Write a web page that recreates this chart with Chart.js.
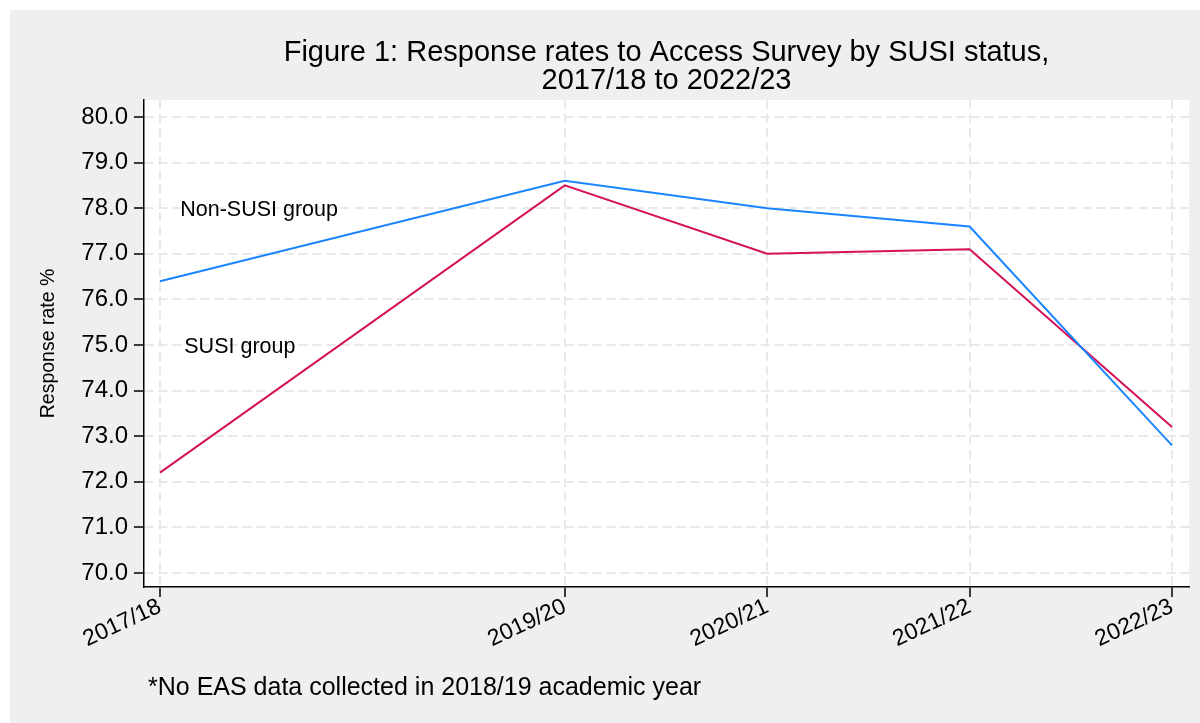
<!DOCTYPE html>
<html>
<head>
<meta charset="utf-8">
<title>Response rates to Access Survey by SUSI status</title>
<script src="https://cdn.jsdelivr.net/npm/chart.js@4.4.0/dist/chart.umd.min.js"></script>
<style>
  html, body { margin: 0; padding: 0; background: #fff; }
  #wrap { width: 1200px; height: 723px; }
</style>
</head>
<body>
<div id="wrap"><canvas id="rateChart" width="1200" height="723"></canvas></div>
<script>
// academic years (x is the starting calendar year, 2018/19 has no data)
const years = [2017, 2019, 2020, 2021, 2022];
const yearLabels = ['2017/18', '2019/20', '2020/21', '2021/22', '2022/23'];
const seriesNames = ['Non-SUSI group', 'SUSI group'];
const nonSusiRates = [76.4, 78.6, 78.0, 77.6, 72.8];
const susiRates = [72.2, 78.5, 77.0, 77.1, 73.2];
const yTicks = [70, 71, 72, 73, 74, 75, 76, 77, 78, 79, 80];
const titleLines = ['Figure 1: Response rates to Access Survey by SUSI status,', '2017/18 to 2022/23'];
const yTitle = 'Response rate %';
const footnote = '*No EAS data collected in 2018/19 academic year';

const FONT = '"Liberation Sans", Arial, Helvetica, sans-serif';
Chart.defaults.font.family = FONT;
Chart.defaults.color = '#000';

// grey graph region with a white plot region
const backdrop = {
    id: 'backdrop',
    beforeDraw(chart) {
        const { ctx, chartArea: a } = chart;
        ctx.save();
        ctx.fillStyle = '#ffffff';
        ctx.fillRect(0, 0, chart.width, chart.height);
        ctx.fillStyle = '#efefef';
        ctx.fillRect(10, 10, chart.width - 10, chart.height - 10);
        ctx.fillStyle = '#ffffff';
        ctx.fillRect(a.left, a.top, a.right - a.left, a.bottom - a.top);
        ctx.restore();
    }
};

// series labels inside the plot + footnote
const notes = {
    id: 'notes',
    afterDraw(chart) {
        const { ctx, scales: { x, y } } = chart;
        ctx.save();
        ctx.fillStyle = '#000';
        ctx.textAlign = 'left';
        ctx.textBaseline = 'middle';
        ctx.font = '21.5px ' + FONT;
        ctx.fillText(seriesNames[0], x.getPixelForValue(2017.1), y.getPixelForValue(77.95));
        ctx.fillText(seriesNames[1], x.getPixelForValue(2017.12), y.getPixelForValue(74.95));
        ctx.font = '25px ' + FONT;
        ctx.fillText(footnote, 148, 688);
        ctx.restore();
    }
};

const gridStyle = {
    color: '#e9e9e9',
    lineWidth: 2,
    tickColor: '#000',
    tickLength: 10,
    tickWidth: 1.5
};

new Chart(document.getElementById('rateChart'), {
    type: 'line',
    data: {
        datasets: [{
            label: seriesNames[0],
            data: years.map((yr, i) => ({ x: yr, y: nonSusiRates[i] })),
            borderColor: '#1a85ff',
            borderWidth: 2,
            pointRadius: 0,
            fill: false
        }, {
            label: seriesNames[1],
            data: years.map((yr, i) => ({ x: yr, y: susiRates[i] })),
            borderColor: '#d41159',
            borderWidth: 2,
            pointRadius: 0,
            fill: false
        }]
    },
    options: {
        responsive: false,
        animation: false,
        devicePixelRatio: 1,
        layout: { padding: { left: 0, right: 11, top: 0, bottom: 0 } },
        plugins: {
            legend: { display: false },
            tooltip: { enabled: false },
            title: {
                display: true,
                fullSize: false,
                text: titleLines,
                color: '#000',
                font: { size: 29, weight: 'normal', lineHeight: '28px' },
                padding: { top: 39, bottom: 5 }
            }
        },
        scales: {
            x: {
                type: 'linear',
                bounds: 'data',
                min: 2016.921,
                max: 2022.084,
                afterBuildTicks: axis => { axis.ticks = years.map(v => ({ value: v })); },
                afterFit: axis => { axis.height = 136; },
                ticks: {
                    autoSkip: false,
                    callback: (v, i) => yearLabels[i],
                    minRotation: 25,
                    maxRotation: 25,
                    padding: -4,
                    color: '#000',
                    font: { size: 23 }
                },
                grid: gridStyle,
                border: { color: '#000', width: 1.5, dash: [9, 5] }
            },
            y: {
                bounds: 'data',
                min: 69.693,
                max: 80.373,
                afterBuildTicks: axis => { axis.ticks = yTicks.map(v => ({ value: v })); },
                afterFit: axis => { axis.width = 144; },
                ticks: {
                    callback: v => v.toFixed(1),
                    padding: 6,
                    color: '#000',
                    font: { size: 24 }
                },
                grid: gridStyle,
                border: { color: '#000', width: 1.5, dash: [9, 5] },
                title: {
                    display: true,
                    text: yTitle,
                    color: '#000',
                    font: { size: 19.5 },
                    padding: { top: 37, bottom: 0 }
                }
            }
        }
    },
    plugins: [backdrop, notes]
});
</script>
</body>
</html>
